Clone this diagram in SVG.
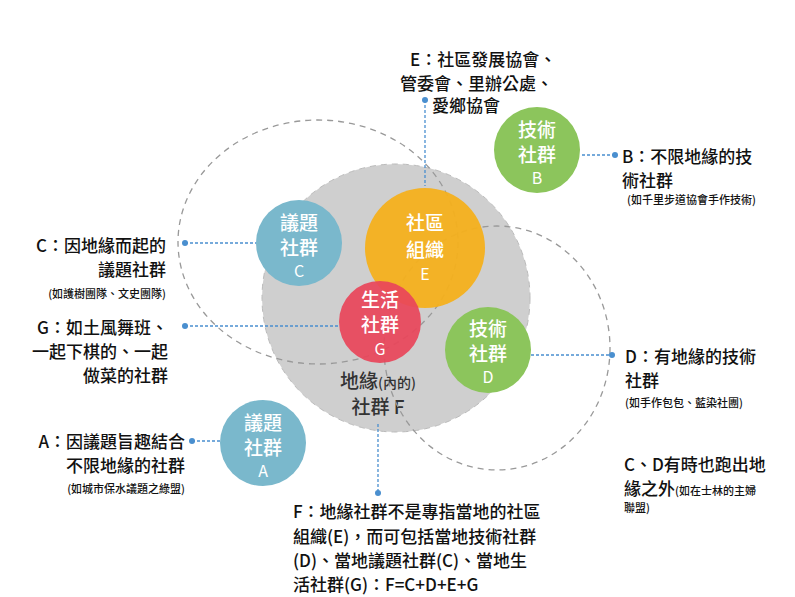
<svg xmlns="http://www.w3.org/2000/svg" width="795" height="597" viewBox="0 0 795 597">
<style>
text{font-family:"Noto Sans CJK TC","Noto Sans CJK SC",sans-serif;fill:#111}
.t{font-size:17px;font-weight:500}
.s{font-size:11px;font-weight:500}
.n{font-size:19px;fill:#fff;text-anchor:middle;font-weight:500}
.nl{font-size:16px;fill:#fff;text-anchor:middle}
.r{text-anchor:end}
.dash{fill:none;stroke:#999;stroke-width:1.3;stroke-dasharray:6 5}
.con{fill:none;stroke:#4a8fcf;stroke-width:1.3;stroke-dasharray:3 2}
.dot{fill:#4a8fcf}
</style>
<rect width="795" height="597" fill="#fff"/>
<g id="F"><circle cx="396" cy="298" r="134" fill="#cfcfcf" stroke="#bbb" stroke-dasharray="6 5"/>
<text x="378" y="388" style="font-size:19px;text-anchor:middle;fill:#333;font-weight:500">地緣<tspan style="font-size:14px">(內的)</tspan></text>
<text x="378" y="414" style="font-size:19px;text-anchor:middle;fill:#333;font-weight:500">社群 F</text></g>
<g id="zones"><ellipse class="dash" cx="318" cy="242" rx="140" ry="122"/><ellipse class="dash" cx="497" cy="348" rx="113" ry="122"/></g>
<g id="C"><circle cx="299" cy="243" r="43" fill="#7ab8cc"/><text class="n" x="299" y="230">議題</text><text class="n" x="299" y="255">社群</text><text class="nl" x="299" y="277">C</text></g>
<g id="E"><circle cx="425" cy="248" r="60" fill="#f4b01c" opacity="0.95"/><text class="n" x="425" y="230">社區</text><text class="n" x="425" y="257">組織</text><text class="nl" x="425" y="280">E</text></g>
<g id="G"><circle cx="380" cy="322" r="41" fill="#e8465a" opacity="0.93"/><text class="n" x="380" y="307">生活</text><text class="n" x="380" y="332">社群</text><text class="nl" x="380" y="355">G</text></g>
<g id="D"><circle cx="488" cy="350" r="43" fill="#8cc55c"/><text class="n" x="488" y="336">技術</text><text class="n" x="488" y="361">社群</text><text class="nl" x="488" y="383">D</text></g>
<g id="B"><circle cx="537" cy="150" r="43" fill="#8cc55c"/><text class="n" x="537" y="137">技術</text><text class="n" x="537" y="162">社群</text><text class="nl" x="537" y="184">B</text></g>
<g id="A"><circle cx="263" cy="443" r="43" fill="#7ab8cc"/><text class="n" x="263" y="430">議題</text><text class="n" x="263" y="455">社群</text><text class="nl" x="263" y="477">A</text></g>
<g id="connectors">
<path class="con" d="M425 100V186"/><circle class="dot" cx="425" cy="100" r="3"/>
<path class="con" d="M582 155H615"/><circle class="dot" cx="615" cy="155" r="3"/>
<path class="con" d="M185 243H256"/><circle class="dot" cx="185" cy="243" r="3"/>
<path class="con" d="M185 326H339"/><circle class="dot" cx="185" cy="326" r="3"/>
<path class="con" d="M531 355H612"/><circle class="dot" cx="612" cy="355" r="3"/>
<path class="con" d="M192 441H220"/><circle class="dot" cx="192" cy="441" r="3"/>
<path class="con" d="M378 424V493"/><circle class="dot" cx="378" cy="493" r="3"/>
</g>
<g id="labels">
<text class="t" x="410" y="66">E：社區發展協會、</text>
<text class="t" x="400" y="90">管委會、里辦公處、</text>
<text class="t" x="432" y="112">愛鄉協會</text>
<text class="t" x="622" y="163">B：不限地緣的技</text>
<text class="t" x="622" y="187">術社群</text>
<text class="s" x="627" y="204">(如千里步道協會手作技術)</text>
<text class="t r" x="166" y="252">C：因地緣而起的</text>
<text class="t r" x="166" y="276">議題社群</text>
<text class="s r" x="166" y="298">(如護樹團隊、文史團隊)</text>
<text class="t r" x="168" y="334">G：如土風舞班、</text>
<text class="t r" x="168" y="358">一起下棋的、一起</text>
<text class="t r" x="168" y="382">做菜的社群</text>
<text class="t r" x="185" y="448">A：因議題旨趣結合</text>
<text class="t r" x="185" y="472">不限地緣的社群</text>
<text class="s r" x="185" y="493">(如城市保水議題之綠盟)</text>
<text class="t" x="625" y="363">D：有地緣的技術</text>
<text class="t" x="625" y="387">社群</text>
<text class="s" x="625" y="407">(如手作包包、藍染社團)</text>
<text class="t" x="624" y="471">C、D有時也跑出地</text>
<text class="t" x="624" y="495">緣之外<tspan class="s">(如在士林的主婦</tspan></text>
<text class="s" x="624" y="512">聯盟)</text>
<text class="t" x="293" y="518">F：地緣社群不是專指當地的社區</text>
<text class="t" x="293" y="543">組織(E)，而可包括當地技術社群</text>
<text class="t" x="293" y="567">(D)、當地議題社群(C)、當地生</text>
<text class="t" x="293" y="591">活社群(G)：F=C+D+E+G</text>
</g>
</svg>
